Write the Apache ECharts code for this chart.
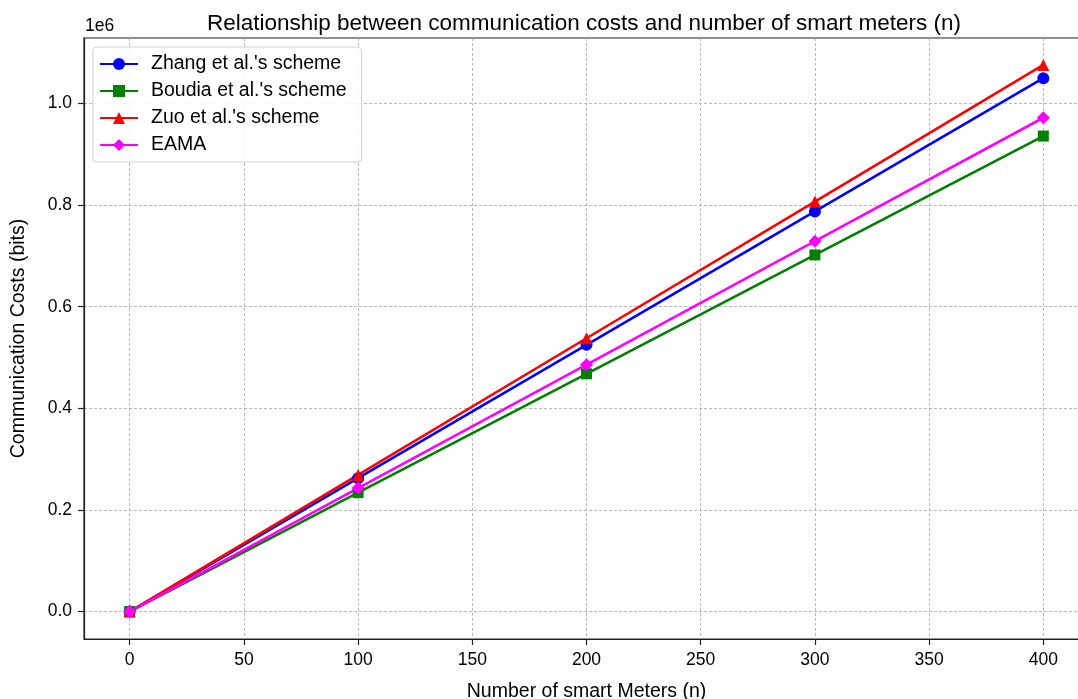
<!DOCTYPE html>
<html><head><meta charset="utf-8">
<script src="https://cdn.jsdelivr.net/npm/echarts@6/dist/echarts.min.js"></script>
<style>html,body{margin:0;padding:0;background:#fff}#c{width:1078px;height:699px}</style>
</head><body><div id="c"></div>
<script>
const meters = [0, 100, 200, 300, 400];
const zhang = [0, 262500, 525000, 787500, 1050000];
const boudia = [0, 234000, 468000, 702000, 936000];
const zuo = [0, 269000, 538000, 807000, 1076000];
const eama = [0, 243000, 486000, 729000, 972000];
const xTicks = [0, 50, 100, 150, 200, 250, 300, 350, 400];
const yTicks = [0, 200000, 400000, 600000, 800000, 1000000];

const font = "'Liberation Sans', Arial, sans-serif";
const chart = echarts.init(document.getElementById('c'), null, {renderer: 'canvas'});
function mk(name, vals, color, symbol, size) {
  return {
    name, type: 'line', data: meters.map((m, i) => [m, vals[i]]),
    symbol, symbolSize: size, showSymbol: true,
    lineStyle: {color, width: 2.6}, itemStyle: {color},
    emphasis: {disabled: true}, animation: false, z: 3
  };
}
const gridLine = {show: true, lineStyle: {color: '#a8a8a8', type: [3, 2], width: 0.8}};
chart.setOption({
  animation: false,
  title: {text: 'Relationship between communication costs and number of smart meters (n)', left: 579, textAlign: 'center', top: 7,
    textStyle: {fontFamily: font, fontSize: 22.5, fontWeight: 'normal', color: '#000'}},
  legend: {orient: 'vertical', left: 93, top: 47, itemWidth: 38, itemHeight: 15, itemGap: 5,
    padding: [6, 15, 6, 6], borderColor: '#d0d0d0', borderWidth: 1, borderRadius: 4, backgroundColor: 'rgba(255,255,255,0.85)',
    textStyle: {fontFamily: font, fontSize: 19.5, color: '#000', padding: [0, 0, 0, 8], lineHeight: 22},
    data: ["Zhang et al.'s scheme", "Boudia et al.'s scheme", "Zuo et al.'s scheme", 'EAMA']},
  grid: {left: 84, width: 1005, top: 38, height: 601, show: true, borderColor: '#222', borderWidth: 1.2, outerBoundsMode: 'none', containLabel: false},
  graphic: [{type: 'text', left: 85, top: 17, style: {text: '1e6', fontFamily: font, fontSize: 17.5, fill: '#000'}}],
  xAxis: {type: 'value', min: -20, max: 420,
    name: 'Number of smart Meters (n)', nameLocation: 'middle', nameGap: 43,
    nameTextStyle: {fontFamily: font, fontSize: 19.5, color: '#000'},
    axisLine: {onZero: false, lineStyle: {color: '#222', width: 1.2}},
    axisTick: {show: true, length: 6, inside: false, customValues: xTicks, lineStyle: {color: '#222', width: 1.2}},
    axisLabel: {customValues: xTicks, fontFamily: font, fontSize: 17.5, color: '#000', margin: 12},
    splitLine: gridLine},
  yAxis: {type: 'value', min: -54000, max: 1129000,
    name: 'Communication Costs (bits)', nameLocation: 'middle', nameGap: 55,
    nameTextStyle: {fontFamily: font, fontSize: 19.5, color: '#000'},
    axisLine: {show: true, onZero: false, lineStyle: {color: '#222', width: 1.2}},
    axisTick: {show: true, length: 6, inside: false, customValues: yTicks, lineStyle: {color: '#222', width: 1.2}},
    axisLabel: {customValues: yTicks, fontFamily: font, fontSize: 17.5, color: '#000', margin: 12,
      formatter: v => (v / 1e6).toFixed(1)},
    splitLine: gridLine},
  series: [
    mk("Zhang et al.'s scheme", zhang, '#0000ff', 'circle', 12),
    mk("Boudia et al.'s scheme", boudia, '#008000', 'rect', 11),
    mk("Zuo et al.'s scheme", zuo, '#ff0000', 'triangle', 12),
    mk('EAMA', eama, '#ff00ff', 'diamond', 13)
  ]
});
</script></body></html>
